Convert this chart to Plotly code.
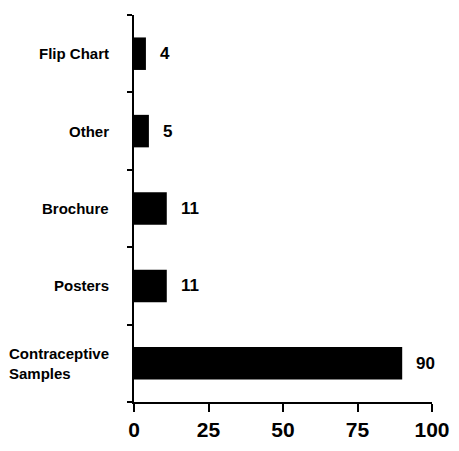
import plotly.graph_objects as go

categories = ["Contraceptive Samples", "Posters", "Brochure", "Other", "Flip Chart"]
label_text = ["Contraceptive<br>Samples", "Posters", "Brochure", "Other", "Flip Chart"]
values = [90, 11, 11, 5, 4]
x_ticks = [0, 25, 50, 75, 100]

FONT = "Arial, Liberation Sans, sans-serif"

fig = go.Figure(go.Bar(
    x=values, y=categories, orientation="h",
    marker=dict(color="black", line=dict(width=0)),
    width=0.42, hoverinfo="skip",
))

# value labels next to bars
for c, v in zip(categories, values):
    fig.add_annotation(x=v, y=c, xref="x", yref="y", text=str(v), showarrow=False,
                       xanchor="left", xshift=12,
                       font=dict(family=FONT, size=17, color="black", weight="bold"))

# category labels
for c, t in zip(categories, label_text):
    fig.add_annotation(x=-0.077, y=c, xref="paper", yref="y", text=t, showarrow=False,
                       xanchor="right", align="left",
                       font=dict(family=FONT, size=15, color="black", weight="bold"))

# the page body adds an 8px margin, so the figure is sized to fit 459x451 with it
fig.update_layout(
    width=443, height=435,
    margin=dict(l=126, r=19, t=7, b=41, autoexpand=False),
    plot_bgcolor="white", paper_bgcolor="white",
    showlegend=False,
    xaxis=dict(range=[0, 100], tickvals=x_ticks, ticks="outside", ticklen=8, tickwidth=2,
               tickcolor="black", showline=True, linecolor="black", linewidth=2,
               showgrid=False, zeroline=False, ticklabelstandoff=0, ticklabeloverflow="allow",
               automargin=False,
               tickfont=dict(family=FONT, size=21, color="black", weight="bold")),
    yaxis=dict(range=[-0.5, 4.5], type="category", categoryorder="array", categoryarray=categories,
               tickson="boundaries", ticks="outside", ticklen=5, tickwidth=2, tickcolor="black",
               showline=True, linecolor="black", linewidth=2, showgrid=False, automargin=False,
               showticklabels=False, zeroline=False),
)

fig.write_html("out.html")
